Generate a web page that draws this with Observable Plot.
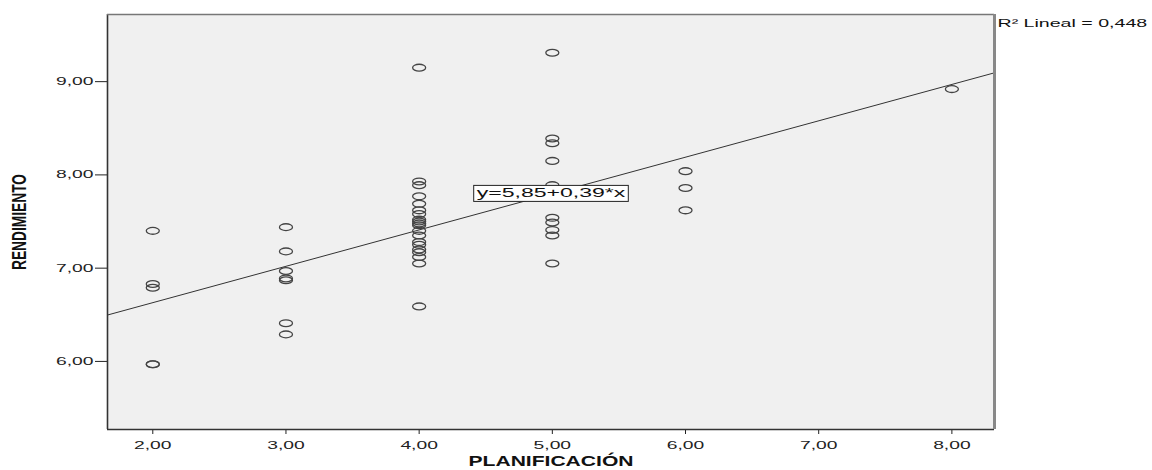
<!DOCTYPE html>
<html>
<head>
<meta charset="utf-8">
<script src="https://cdn.jsdelivr.net/npm/d3@7"></script>
<script src="https://cdn.jsdelivr.net/npm/@observablehq/plot@0.6"></script>
<style>
  html, body { margin: 0; padding: 0; background: #fff; }
  #chart svg { display: block; }
</style>
</head>
<body>
<div id="chart"></div>
<script>
// ---- data ----
const planificacion = [
  2, 2, 2, 2, 2,
  3, 3, 3, 3, 3, 3, 3,
  4, 4, 4, 4, 4, 4, 4, 4, 4, 4, 4, 4, 4, 4, 4, 4, 4, 4, 4, 4,
  5, 5, 5, 5, 5, 5, 5, 5, 5, 5,
  6, 6, 6,
  8
];
const rendimiento = [
  7.40, 6.83, 6.79, 5.97, 5.97,
  7.44, 7.18, 6.97, 6.89, 6.87, 6.41, 6.29,
  9.15, 7.93, 7.89, 7.77, 7.69, 7.62, 7.58, 7.52, 7.50, 7.48, 7.46, 7.40, 7.35, 7.28, 7.25, 7.20, 7.17, 7.12, 7.05, 6.59,
  9.31, 8.39, 8.34, 8.15, 7.89, 7.54, 7.49, 7.41, 7.35, 7.05,
  8.04, 7.86, 7.62,
  8.92
];
const xTicks = [2, 3, 4, 5, 6, 7, 8];
const yTicks = [6, 7, 8, 9];
const xDomain = [1.66, 8.32];
const yDomain = [5.27, 9.72];
const intercept = 5.85;
const slope = 0.39;
const r2Text = "R\u00B2 Lineal = 0,448";
const equationText = "y=5,85+0,39*x";
const equationAt = [{x: 4.99, y: 7.80}];
const xTitle = "PLANIFICACI\u00D3N";
const yTitle = "RENDIMIENTO";

const points = planificacion.map((p, i) => ({x: p, y: rendimiento[i]}));
const fitLine = xDomain.map(x => ({x, y: intercept + slope * x}));
const fmt = d => d.toFixed(2).replace(".", ",");

// open ellipse marker (SPSS style)
const ellipse = {
  draw(ctx) {
    const rx = 6.5, ry = 3.4, k = 0.5523;
    ctx.moveTo(rx, 0);
    ctx.bezierCurveTo(rx, ry * k, rx * k, ry, 0, ry);
    ctx.bezierCurveTo(-rx * k, ry, -rx, ry * k, -rx, 0);
    ctx.bezierCurveTo(-rx, -ry * k, -rx * k, -ry, 0, -ry);
    ctx.bezierCurveTo(rx * k, -ry, rx, -ry * k, rx, 0);
    ctx.closePath();
  }
};

const chart = Plot.plot({
  width: 1152,
  height: 470,
  marginLeft: 107,
  marginRight: 158,
  marginTop: 14,
  marginBottom: 41,
  style: {fontFamily: "'Liberation Sans', Arial, sans-serif", fontSize: "11px", color: "#222", background: "#fff", overflow: "visible"},
  x: {domain: xDomain, nice: false},
  y: {domain: yDomain, nice: false},
  marks: [
    Plot.frame({fill: "#f0f0f0", stroke: "none"}),
    Plot.line(fitLine, {x: "x", y: "y", stroke: "#333", strokeWidth: 1}),
    Plot.dot(points, {x: "x", y: "y", symbol: ellipse, stroke: "#444", strokeWidth: 1.3, fill: "none"}),
    Plot.axisX({ticks: xTicks, tickFormat: fmt, tickSize: 5, tickPadding: 7, label: null, stroke: "#222", fill: "#222"}),
    Plot.axisY({ticks: yTicks, tickFormat: fmt, tickSize: 12, tickPadding: 2, label: null, stroke: "#222", fill: "#222"}),
    Plot.ruleX([xDomain[0]], {stroke: "#333", strokeWidth: 1.6}),
    Plot.ruleY([yDomain[0]], {stroke: "#333", strokeWidth: 1.6}),
    Plot.ruleY([yDomain[1]], {stroke: "#777", strokeWidth: 1.4}),
    Plot.ruleX([xDomain[1]], {stroke: "#888", strokeWidth: 3}),
    Plot.text(equationAt, {x: "x", y: "y", text: () => equationText, fontSize: 12, fill: "#111"}),
    Plot.text([r2Text], {frameAnchor: "top-right", textAnchor: "start", dx: 3, dy: 5, text: d => d, fontSize: 11, fill: "#111"}),
    Plot.text([xTitle], {frameAnchor: "bottom", dy: 36, text: d => d, fontSize: 15, fontWeight: "bold", fill: "#111"}),
    Plot.text([yTitle], {frameAnchor: "left", dx: -88, rotate: -90, text: d => d, fontSize: 20, fontWeight: "bold", fill: "#111"})
  ]
});

document.getElementById("chart").appendChild(chart);

// SPSS export is horizontally stretched: widen glyphs of small texts
function stretch(el, factor) {
  const len = el.getComputedTextLength();
  el.setAttribute("textLength", (len * factor).toFixed(1));
  el.setAttribute("lengthAdjust", "spacingAndGlyphs");
}
function setLength(el, target) {
  el.setAttribute("textLength", target);
  el.setAttribute("lengthAdjust", "spacingAndGlyphs");
}
// re-center a text on its anchor after its length was changed
function recenter(el) {
  const b = el.getBBox();
  const c = b.x + b.width / 2;
  const x0 = +(el.getAttribute("x") || 0);
  el.setAttribute("x", (x0 - c).toFixed(1));
}
chart.querySelectorAll('g[aria-label="x-axis tick label"] text, g[aria-label="y-axis tick label"] text')
  .forEach(t => stretch(t, 1.75));

chart.querySelectorAll('g[aria-label="text"] text').forEach(t => {
  const s = t.textContent;
  if (s === equationText) {
    stretch(t, 1.92);
    const b = t.getBBox();
    const r = document.createElementNS("http://www.w3.org/2000/svg", "rect");
    r.setAttribute("x", b.x - 3);
    r.setAttribute("y", b.y - 1);
    r.setAttribute("width", b.width + 6);
    r.setAttribute("height", b.height + 2);
    r.setAttribute("fill", "#fff");
    r.setAttribute("stroke", "#222");
    r.setAttribute("stroke-width", "1");
    const tr = t.getAttribute("transform");
    if (tr) r.setAttribute("transform", tr);
    t.parentNode.insertBefore(r, t);
  } else if (s === r2Text) {
    stretch(t, 1.78);
  } else if (s === xTitle) {
    setLength(t, 165);
    recenter(t);
  } else if (s === yTitle) {
    t.style.fontFamily = "'Liberation Sans Narrow', 'Liberation Sans', Arial, sans-serif";
    setLength(t, 96);
    recenter(t);
  }
});
</script>
</body>
</html>
